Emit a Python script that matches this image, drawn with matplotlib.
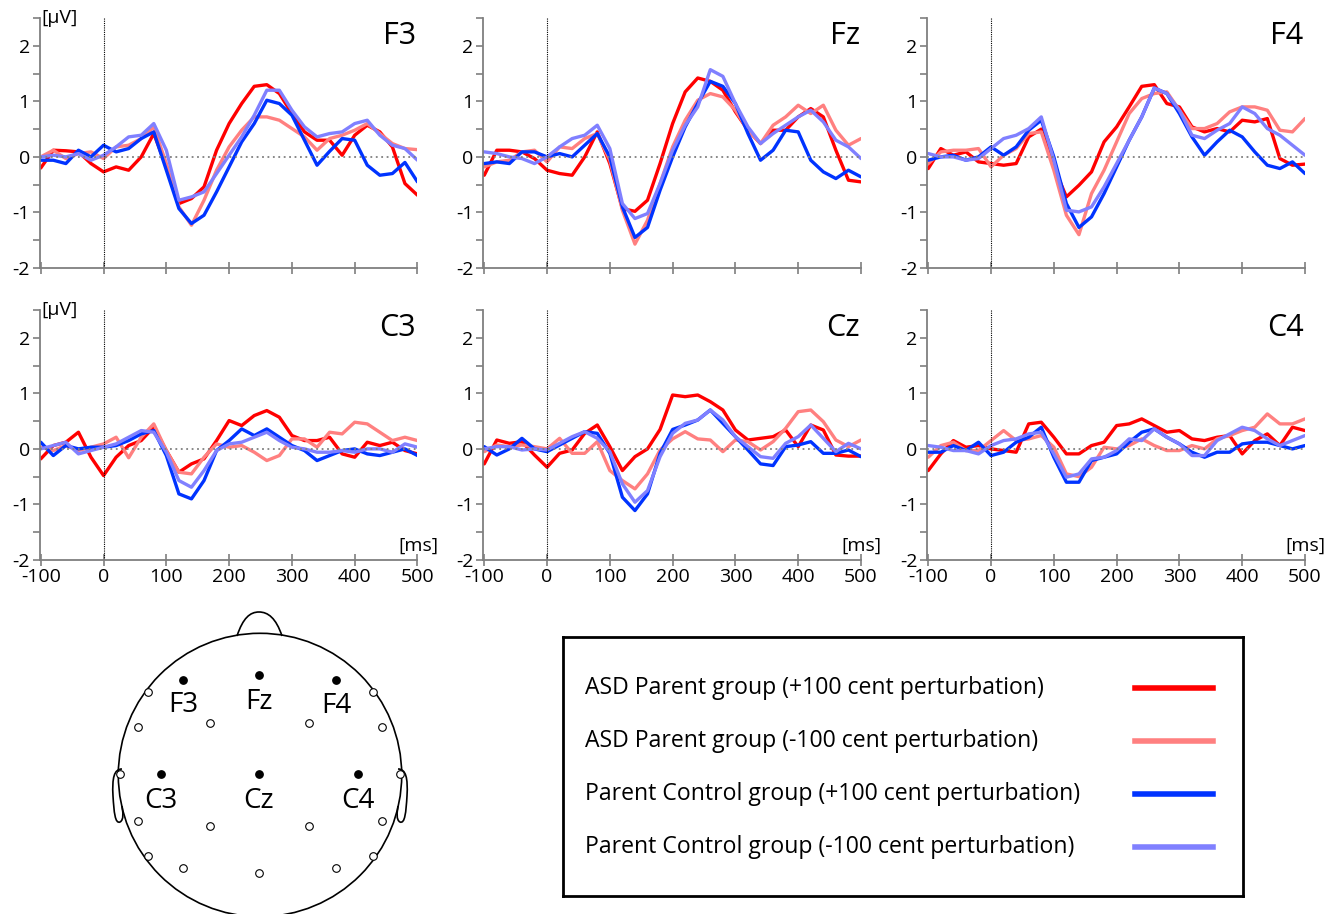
import numpy as np
import matplotlib.pyplot as plt
from matplotlib.patches import Circle, PathPatch
from matplotlib.path import Path

plt.rcParams['font.family'] = ['Open Sans', 'DejaVu Sans']
plt.rcParams['axes.unicode_minus'] = False

# time axis (ms), one sample every 20 ms
time_ms = np.arange(-100, 501, 20)

# F3
f3_asd_pos = [-0.2, 0.12, 0.11, 0.09, -0.12, -0.27, -0.18, -0.24, 0.0, 0.42, -0.18, -0.84, -0.75, -0.54, 0.12,
              0.6, 0.96, 1.27, 1.3, 1.14, 0.78, 0.45, 0.3, 0.3, 0.03, 0.39, 0.57, 0.45, 0.18, -0.48, -0.69]
f3_asd_neg = [0.0, 0.12, -0.03, 0.06, 0.09, -0.03, 0.18, 0.21, 0.33, 0.54, -0.12, -0.9, -1.23, -0.78, -0.24,
              0.18, 0.48, 0.72, 0.72, 0.66, 0.51, 0.36, 0.12, 0.33, 0.39, 0.48, 0.6, 0.42, 0.24, 0.15, 0.13]
f3_ctl_pos = [-0.06, -0.06, -0.12, 0.12, 0.0, 0.21, 0.09, 0.15, 0.33, 0.45, -0.24, -0.93, -1.2, -1.05, -0.63,
              -0.18, 0.27, 0.6, 1.02, 0.96, 0.75, 0.3, -0.15, 0.1, 0.33, 0.3, -0.15, -0.33, -0.3, -0.1, -0.45]
f3_ctl_neg = [0.0, 0.03, 0.0, 0.06, -0.06, 0.03, 0.18, 0.36, 0.39, 0.6, 0.12, -0.78, -0.72, -0.63, -0.3,
              0.03, 0.36, 0.75, 1.2, 1.2, 0.84, 0.54, 0.36, 0.42, 0.45, 0.6, 0.66, 0.39, 0.21, 0.15, -0.06]

# Fz
fz_asd_pos = [-0.33, 0.12, 0.12, 0.09, -0.03, -0.24, -0.3, -0.33, 0.0, 0.45, -0.12, -0.93, -0.98, -0.78, -0.12,
              0.6, 1.17, 1.42, 1.36, 1.2, 0.81, 0.48, 0.24, 0.48, 0.48, 0.72, 0.87, 0.72, 0.12, -0.42, -0.45]
fz_asd_neg = [-0.18, -0.09, -0.06, 0.09, 0.12, -0.09, 0.18, 0.15, 0.33, 0.42, -0.06, -0.96, -1.57, -1.14, -0.48,
              0.18, 0.66, 1.02, 1.14, 1.08, 0.84, 0.48, 0.24, 0.57, 0.72, 0.93, 0.78, 0.93, 0.48, 0.21, 0.33]
fz_ctl_pos = [-0.12, -0.09, -0.12, 0.09, 0.09, 0.0, 0.06, 0.0, 0.21, 0.42, 0.0, -0.9, -1.45, -1.27, -0.6,
              0.0, 0.54, 0.96, 1.36, 1.27, 0.96, 0.42, -0.06, 0.12, 0.48, 0.45, -0.06, -0.27, -0.39, -0.24, -0.36]
fz_ctl_neg = [0.09, 0.06, 0.0, -0.03, -0.12, 0.0, 0.18, 0.33, 0.39, 0.57, 0.15, -0.84, -1.11, -1.02, -0.48,
              0.12, 0.57, 0.9, 1.57, 1.45, 0.96, 0.54, 0.24, 0.42, 0.57, 0.72, 0.84, 0.63, 0.3, 0.18, -0.03]

# F4
f4_asd_pos = [-0.21, 0.15, 0.03, 0.09, -0.09, -0.12, -0.15, -0.12, 0.36, 0.5, -0.18, -0.72, -0.51, -0.27, 0.27,
              0.54, 0.9, 1.27, 1.3, 0.96, 0.9, 0.54, 0.45, 0.51, 0.45, 0.66, 0.63, 0.69, -0.03, -0.15, -0.13]
f4_asd_neg = [-0.12, 0.09, 0.12, 0.12, 0.15, -0.18, 0.03, 0.15, 0.42, 0.45, -0.24, -1.05, -1.4, -0.66, -0.24,
              0.27, 0.78, 1.05, 1.14, 1.17, 0.84, 0.51, 0.51, 0.6, 0.81, 0.9, 0.9, 0.84, 0.48, 0.45, 0.69]
f4_ctl_pos = [-0.06, 0.0, 0.03, -0.06, 0.0, 0.18, 0.03, 0.18, 0.48, 0.66, 0.0, -0.84, -1.27, -1.08, -0.66,
              -0.18, 0.3, 0.72, 1.24, 1.14, 0.78, 0.36, 0.03, 0.27, 0.48, 0.36, 0.09, -0.15, -0.21, -0.09, -0.3]
f4_ctl_neg = [0.06, 0.0, 0.0, -0.06, -0.03, 0.15, 0.33, 0.39, 0.51, 0.72, -0.06, -0.96, -0.99, -0.9, -0.54,
              -0.12, 0.3, 0.72, 1.24, 1.14, 0.84, 0.39, 0.33, 0.48, 0.6, 0.9, 0.78, 0.51, 0.39, 0.21, 0.03]

# C3
c3_asd_pos = [-0.18, 0.06, 0.12, 0.3, -0.15, -0.48, -0.15, 0.06, 0.15, 0.39, -0.03, -0.42, -0.27, -0.18, 0.15,
              0.51, 0.42, 0.6, 0.69, 0.57, 0.24, 0.15, 0.15, 0.21, -0.09, -0.15, 0.12, 0.06, 0.12, -0.03, -0.09]
c3_asd_neg = [0.03, -0.03, 0.06, -0.03, 0.03, 0.09, 0.21, -0.16, 0.21, 0.45, -0.03, -0.42, -0.45, -0.15, 0.09,
              0.03, 0.06, -0.06, -0.21, -0.12, 0.18, 0.18, 0.03, 0.3, 0.27, 0.48, 0.45, 0.3, 0.15, 0.21, 0.15]
c3_ctl_pos = [0.12, -0.12, 0.06, 0.0, 0.03, 0.03, 0.06, 0.15, 0.27, 0.33, -0.12, -0.81, -0.9, -0.57, -0.03,
              0.15, 0.36, 0.24, 0.36, 0.21, 0.06, -0.03, -0.21, -0.12, -0.03, 0.0, -0.09, -0.12, -0.06, 0.0, -0.12]
c3_ctl_neg = [0.0, 0.06, 0.12, -0.09, -0.03, 0.03, 0.09, 0.21, 0.33, 0.3, -0.06, -0.57, -0.69, -0.39, -0.03,
              0.09, 0.12, 0.21, 0.3, 0.15, 0.03, 0.0, -0.06, -0.06, -0.03, -0.06, 0.0, 0.0, -0.06, 0.09, 0.03]

# Cz
cz_asd_pos = [-0.27, 0.16, 0.1, 0.13, -0.11, -0.33, -0.08, -0.02, 0.28, 0.43, 0.04, -0.39, -0.14, 0.0, 0.35,
              0.97, 0.94, 0.97, 0.85, 0.7, 0.34, 0.16, 0.19, 0.22, 0.34, 0.04, 0.43, 0.34, -0.11, -0.13, -0.13]
cz_asd_neg = [-0.05, 0.07, 0.04, 0.07, 0.04, 0.0, 0.19, -0.08, -0.08, 0.13, -0.39, -0.57, -0.72, -0.45, -0.02,
              0.18, 0.31, 0.18, 0.16, -0.05, 0.16, 0.13, -0.02, 0.13, 0.37, 0.67, 0.7, 0.49, 0.16, 0.04, 0.16]
cz_ctl_pos = [0.04, -0.11, 0.0, 0.19, 0.0, -0.05, 0.07, 0.19, 0.31, 0.28, -0.08, -0.87, -1.11, -0.81, -0.08,
              0.35, 0.43, 0.52, 0.7, 0.46, 0.22, -0.02, -0.27, -0.3, 0.04, 0.07, 0.13, -0.08, -0.08, -0.02, -0.14]
cz_ctl_neg = [0.0, 0.04, 0.04, -0.02, 0.0, -0.02, 0.1, 0.22, 0.31, 0.19, -0.05, -0.63, -0.96, -0.75, -0.14,
              0.28, 0.46, 0.52, 0.7, 0.52, 0.22, 0.04, -0.14, -0.17, 0.1, 0.22, 0.43, 0.19, -0.05, 0.1, 0.0]

# C4
c4_asd_pos = [-0.39, -0.09, 0.15, 0.03, 0.06, 0.0, -0.03, -0.06, 0.45, 0.48, 0.21, -0.09, -0.09, 0.06, 0.12,
              0.42, 0.45, 0.54, 0.42, 0.3, 0.33, 0.18, 0.15, 0.21, 0.24, -0.09, 0.15, 0.27, 0.06, 0.39, 0.33]
c4_asd_neg = [-0.15, 0.06, 0.12, -0.03, -0.03, 0.15, 0.33, 0.15, 0.18, 0.24, 0.03, -0.45, -0.5, -0.33, 0.03,
              0.0, 0.06, 0.18, 0.06, -0.03, -0.03, 0.06, 0.0, 0.18, 0.24, 0.33, 0.39, 0.63, 0.45, 0.45, 0.54]
c4_ctl_pos = [-0.06, -0.06, 0.06, -0.03, 0.12, -0.12, -0.06, 0.12, 0.21, 0.39, -0.15, -0.6, -0.6, -0.21, -0.15,
              -0.09, 0.12, 0.3, 0.36, 0.21, 0.09, -0.06, -0.15, -0.06, -0.06, 0.09, 0.12, 0.12, 0.06, 0.0, 0.06]
c4_ctl_neg = [0.06, 0.03, -0.03, -0.03, -0.09, 0.06, 0.15, 0.18, 0.27, 0.3, -0.09, -0.51, -0.45, -0.18, -0.15,
              -0.03, 0.18, 0.15, 0.36, 0.21, 0.09, -0.12, -0.12, 0.15, 0.27, 0.39, 0.33, 0.18, 0.06, 0.15, 0.24]

channels = ['F3', 'Fz', 'F4', 'C3', 'Cz', 'C4']
channel_data = [
    [f3_asd_pos, f3_asd_neg, f3_ctl_pos, f3_ctl_neg],
    [fz_asd_pos, fz_asd_neg, fz_ctl_pos, fz_ctl_neg],
    [f4_asd_pos, f4_asd_neg, f4_ctl_pos, f4_ctl_neg],
    [c3_asd_pos, c3_asd_neg, c3_ctl_pos, c3_ctl_neg],
    [cz_asd_pos, cz_asd_neg, cz_ctl_pos, cz_ctl_neg],
    [c4_asd_pos, c4_asd_neg, c4_ctl_pos, c4_ctl_neg],
]
series_labels = ['ASD Parent group (+100 cent perturbation)',
                 'ASD Parent group (-100 cent perturbation)',
                 'Parent Control group (+100 cent perturbation)',
                 'Parent Control group (-100 cent perturbation)']
series_colors = ['#ff0000', '#ff8080', '#0033ff', '#8080ff']

W, H = 1338, 914
fig = plt.figure(figsize=(W / 100, H / 100), dpi=100)
grey = '#7f7f7f'

col_left = [39.5, 483, 927]
row_bottom = [268, 560]

for i, name in enumerate(channels):
    row, col = divmod(i, 3)
    ax = fig.add_axes([col_left[col] / W, 1 - row_bottom[row] / H, 378 / W, 250 / H])
    for vals, clr in zip(channel_data[i], series_colors):
        ax.plot(time_ms, vals, color=clr, lw=2.4, solid_joinstyle='round', solid_capstyle='round')
    ax.axvline(0, color='k', lw=0.8, ls=(0, (1, 1)))
    ax.axhline(0, color=grey, lw=1.3, ls=(0, (1, 2)))
    ax.set_xlim(-102, 500)
    ax.set_ylim(-2, 2.5)
    for s in ['top', 'right']:
        ax.spines[s].set_visible(False)
    for s in ['left', 'bottom']:
        ax.spines[s].set_color(grey)
        ax.spines[s].set_linewidth(1.3)
    yt = np.arange(-2, 2.51, 0.5)
    ax.set_yticks(yt)
    ax.set_yticklabels([str(int(v)) if v == int(v) else '' for v in yt], fontsize=14)
    ax.set_xticks(np.arange(-100, 501, 100))
    if row == 1:
        ax.set_xticklabels([str(v) for v in range(-100, 501, 100)], fontsize=14)
        ax.text(533, -1.75, '[ms]', ha='right', va='center', fontsize=14, clip_on=False)
    else:
        ax.set_xticklabels([])
    ax.tick_params(axis='x', direction='inout', length=8, width=1.2, color=grey, pad=2)
    ax.tick_params(axis='y', direction='out', length=5, width=1.2, color=grey, pad=2)
    if col == 0:
        ax.text(-99, 2.5, '[μV]', ha='left', va='center', fontsize=14, clip_on=False)
    ax.text(498, 2.17, name, ha='right', va='center', fontsize=22)

# head schematic, drawn in pixel-like coordinates
hx = fig.add_axes([100 / W, 0, 320 / W, 314 / H])
hx.set_xlim(100, 420)
hx.set_ylim(914, 600)
hx.axis('off')

head_c = (260, 775)
head_r = 141.7
hx.add_patch(Circle(head_c, head_r, fill=False, lw=1.2, ec='k'))

nose = Path([(237, 636), (243, 618), (250, 612), (259, 612), (268, 612), (276, 618), (282, 636)],
            [Path.MOVETO, Path.CURVE4, Path.CURVE4, Path.CURVE4, Path.CURVE4, Path.CURVE4, Path.CURVE4])
hx.add_patch(PathPatch(nose, fill=False, lw=1.2, ec='k'))

for sgn in [-1, 1]:
    ex = lambda d: head_c[0] + sgn * d
    ear = Path([(ex(138), 769), (ex(146), 769), (ex(148), 778), (ex(147), 796),
                (ex(146), 812), (ex(145), 824), (ex(140), 822),
                (ex(136), 820), (ex(137), 812), (ex(138), 806)],
               [Path.MOVETO, Path.CURVE4, Path.CURVE4, Path.CURVE4,
                Path.CURVE4, Path.CURVE4, Path.CURVE4,
                Path.CURVE4, Path.CURVE4, Path.CURVE4])
    hx.add_patch(PathPatch(ear, fill=False, lw=1.2, ec='k'))

# active electrodes and their labels
elec_names = ['F3', 'Fz', 'F4', 'C3', 'Cz', 'C4']
elec_x = [183, 259, 336, 161, 259, 358]
elec_y = [680, 675, 680, 774, 774, 774]
label_y = [705, 702, 706, 801, 801, 801]
hx.scatter(elec_x, elec_y, s=28, color='k', zorder=3)
for nm, x, y in zip(elec_names, elec_x, label_y):
    hx.text(x, y, nm, ha='center', va='center', fontsize=20)

# other electrode sites
other_x = [148, 138, 210, 309, 382, 373, 120, 400, 138, 210, 309, 382, 148, 373, 183, 259, 336]
other_y = [692, 727, 723, 723, 727, 692, 774, 774, 821, 826, 826, 821, 856, 856, 868, 873, 868]
hx.scatter(other_x, other_y, s=30, facecolor='white', edgecolor='k', lw=0.8, zorder=3)

# legend box
lx = fig.add_axes([563 / W, 1 - 896 / H, 680 / W, 259 / H])
lx.set_xlim(563, 1243)
lx.set_ylim(896, 637)
lx.set_xticks([])
lx.set_yticks([])
for s in lx.spines.values():
    s.set_linewidth(2)
    s.set_color('k')
legend_y = [688, 741, 794, 847]
for lab, clr, y in zip(series_labels, series_colors, legend_y):
    lx.text(585, y, lab, ha='left', va='center', fontsize=16.6)
    lx.plot([1135, 1213], [y, y], color=clr, lw=4)

fig.savefig('out.png', dpi=100)
